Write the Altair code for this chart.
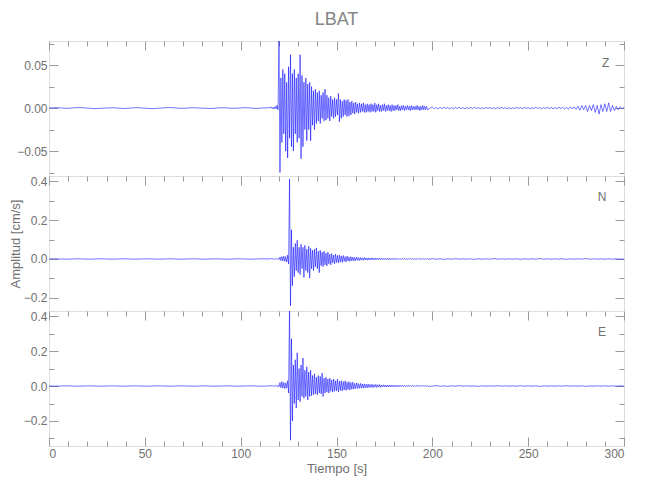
import altair as alt
import pandas as pd

# ---------------- data ----------------
PRE_STEP = 3.0          # quiet part, one sample every 3 s from t = 0
Z_EVENT_START = 116.0   # event part, one (+peak, -peak) pair per second
NE_EVENT_START = 116.5
POST_START = 200.0

Z_PRE = [0.0000, 0.0005, 0.0002, -0.0004, 0.0001, 0.0006, 0.0003, -0.0002, -0.0006, -0.0003,
         0.0001, 0.0004, 0.0000, -0.0005, -0.0001, 0.0005, 0.0002, -0.0003, -0.0006, -0.0002,
         0.0003, 0.0006, 0.0002, -0.0004, 0.0000, 0.0004, 0.0001, -0.0002, -0.0005, -0.0001,
         0.0004, 0.0002, -0.0003, 0.0000, 0.0005, 0.0001, -0.0004, 0.0000, 0.0003]
Z_UP = [0.001, 0.001, 0.002, 0.003, 0.080, 0.035, 0.045, 0.040, 0.030, 0.048,
        0.062, 0.040, 0.045, 0.035, 0.040, 0.062, 0.038, 0.030, 0.035, 0.028,
        0.030, 0.025, 0.020, 0.022, 0.018, 0.020, 0.015, 0.018, 0.022, 0.015,
        0.012, 0.014, 0.010, 0.012, 0.010, 0.017, 0.010, 0.008, 0.010, 0.009,
        0.010, 0.007, 0.008, 0.006, 0.007, 0.005, 0.006, 0.005, 0.006, 0.004,
        0.005, 0.004, 0.005, 0.004, 0.006, 0.004, 0.005, 0.003, 0.004, 0.005,
        0.003, 0.004, 0.003, 0.004, 0.003, 0.003, 0.004, 0.002, 0.003, 0.003,
        0.002, 0.003, 0.002, 0.003, 0.002, 0.002, 0.003, 0.002, 0.002, 0.003, 0.002, 0.002]
Z_DN = [-0.001, -0.001, -0.001, -0.002, -0.075, -0.040, -0.030, -0.050, -0.058, -0.035,
        -0.045, -0.050, -0.030, -0.040, -0.035, -0.059, -0.045, -0.025, -0.038, -0.025,
        -0.038, -0.020, -0.025, -0.018, -0.015, -0.018, -0.012, -0.015, -0.014, -0.012,
        -0.015, -0.010, -0.012, -0.010, -0.008, -0.016, -0.012, -0.010, -0.008, -0.010,
        -0.009, -0.008, -0.006, -0.007, -0.005, -0.006, -0.005, -0.004, -0.005, -0.005,
        -0.004, -0.005, -0.004, -0.004, -0.005, -0.003, -0.004, -0.004, -0.003, -0.004,
        -0.003, -0.003, -0.004, -0.003, -0.003, -0.002, -0.003, -0.003, -0.002, -0.003,
        -0.002, -0.002, -0.003, -0.002, -0.002, -0.002, -0.002, -0.003, -0.002, -0.002, -0.002, -0.002]
Z_POST_STEP = 1.0
Z_POST = [0.0015, -0.0010, 0.0008, -0.0012, 0.0010, -0.0008, 0.0012, -0.0006, 0.0008, -0.0010,
          0.0006, -0.0010, 0.0008, -0.0005, 0.0010, -0.0007, 0.0005, -0.0008, 0.0006, -0.0005,
          0.0008, -0.0006, 0.0010, -0.0005, 0.0006, -0.0009, 0.0005, -0.0006, 0.0007, -0.0004,
          0.0005, -0.0006, 0.0004, -0.0008, 0.0005, -0.0004, 0.0008, -0.0005, 0.0004, -0.0006,
          0.0005, -0.0008, 0.0004, -0.0005, 0.0008, -0.0004, 0.0005, -0.0006, 0.0009, -0.0005,
          0.0006, -0.0009, 0.0005, -0.0006, 0.0010, -0.0005, 0.0006, -0.0010, 0.0006, -0.0005,
          0.0010, -0.0006, 0.0007, -0.0010, 0.0006, -0.0008, 0.0012, -0.0007, 0.0008, -0.0012,
          0.0010, -0.0015, 0.0015, -0.0010, 0.0015, -0.0015, 0.0020, -0.0025, 0.0030, -0.0020,
          0.0030, -0.0040, 0.0030, -0.0030, 0.0040, -0.0050, 0.0030, -0.0070, 0.0040, -0.0040,
          0.0050, -0.0040, 0.0060, -0.0040, 0.0030, -0.0030, 0.0020, -0.0020, 0.0015, -0.0010,
          0.0010]

N_PRE = [0.000, 0.001, 0.000, -0.001, 0.000, 0.001, 0.000, -0.001, 0.000, 0.001,
         0.000, -0.001, 0.000, 0.001, 0.000, -0.001, 0.000, 0.001, 0.000, -0.001,
         0.000, 0.001, 0.000, -0.001, 0.000, 0.001, 0.000, -0.001, 0.000, 0.001,
         0.000, -0.001, 0.000, 0.001, 0.000, -0.001, 0.000, 0.001, 0.000]
N_UP = [0.002, 0.002, 0.003, 0.003, 0.010, 0.012, 0.015, 0.012, 0.020, 0.410,
        0.150, 0.060, 0.080, 0.096, 0.060, 0.075, 0.060, 0.070, 0.050, 0.065,
        0.055, 0.045, 0.050, 0.057, 0.040, 0.045, 0.035, 0.040, 0.030, 0.035,
        0.025, 0.028, 0.020, 0.025, 0.018, 0.020, 0.015, 0.018, 0.012, 0.015,
        0.010, 0.012, 0.010, 0.008, 0.010, 0.007, 0.008, 0.006, 0.008, 0.005,
        0.006, 0.005, 0.006, 0.004, 0.005, 0.004, 0.005, 0.003, 0.004, 0.004,
        0.003, 0.004, 0.003, 0.003, 0.004, 0.003, 0.003, 0.002, 0.003, 0.003,
        0.002, 0.003, 0.002, 0.003, 0.002, 0.002, 0.003, 0.002, 0.002, 0.002, 0.002, 0.002]
N_DN = [-0.002, -0.002, -0.002, -0.003, -0.008, -0.010, -0.012, -0.015, -0.025, -0.240,
        -0.137, -0.090, -0.060, -0.070, -0.080, -0.050, -0.095, -0.060, -0.070, -0.098,
        -0.050, -0.060, -0.040, -0.050, -0.070, -0.035, -0.040, -0.030, -0.035, -0.025,
        -0.030, -0.020, -0.025, -0.018, -0.020, -0.015, -0.018, -0.012, -0.015, -0.010,
        -0.012, -0.009, -0.010, -0.008, -0.007, -0.008, -0.006, -0.007, -0.005, -0.006,
        -0.005, -0.005, -0.004, -0.005, -0.004, -0.004, -0.003, -0.004, -0.003, -0.003,
        -0.004, -0.003, -0.003, -0.003, -0.002, -0.003, -0.002, -0.003, -0.002, -0.002,
        -0.003, -0.002, -0.002, -0.002, -0.002, -0.002, -0.002, -0.002, -0.002, -0.002, -0.002, -0.002]
N_POST_STEP = 2.0
N_POST = [0.002, -0.001, 0.001, -0.002, 0.001, -0.001, 0.002, -0.001, 0.001, -0.001,
          0.001, -0.002, 0.001, -0.001, 0.001, -0.001, 0.002, -0.001, 0.001, -0.001,
          0.001, -0.001, 0.001, -0.002, 0.001, -0.001, 0.001, -0.001, 0.002, -0.001,
          0.001, -0.001, 0.001, -0.001, 0.001, -0.002, 0.001, -0.001, 0.001, -0.001,
          0.002, -0.001, 0.001, -0.001, 0.001, -0.001, 0.001, -0.001, 0.001, -0.001,
          0.000]

E_PRE = [0.000, -0.001, 0.000, 0.001, 0.000, -0.001, 0.000, 0.001, 0.000, -0.001,
         0.000, 0.001, 0.000, -0.001, 0.000, 0.001, 0.000, -0.001, 0.000, 0.001,
         0.000, -0.001, 0.000, 0.001, 0.000, -0.001, 0.000, 0.001, 0.000, -0.001,
         0.000, 0.001, 0.000, -0.001, 0.000, 0.001, 0.000, -0.001, 0.000]
E_UP = [0.002, 0.003, 0.003, 0.005, 0.020, 0.025, 0.020, 0.018, 0.030, 0.460,
        0.270, 0.120, 0.150, 0.190, 0.100, 0.120, 0.160, 0.090, 0.110, 0.080,
        0.090, 0.060, 0.070, 0.050, 0.060, 0.055, 0.074, 0.045, 0.050, 0.040,
        0.045, 0.035, 0.040, 0.030, 0.040, 0.028, 0.030, 0.025, 0.030, 0.022,
        0.025, 0.020, 0.022, 0.015, 0.018, 0.014, 0.015, 0.012, 0.012, 0.010,
        0.011, 0.009, 0.010, 0.008, 0.009, 0.007, 0.008, 0.006, 0.007, 0.006,
        0.006, 0.005, 0.006, 0.005, 0.005, 0.004, 0.005, 0.004, 0.004, 0.004,
        0.003, 0.004, 0.003, 0.004, 0.003, 0.003, 0.003, 0.003, 0.002, 0.003, 0.002, 0.002]
E_DN = [-0.002, -0.002, -0.003, -0.004, -0.010, -0.012, -0.015, -0.012, -0.040, -0.310,
        -0.200, -0.100, -0.126, -0.080, -0.090, -0.060, -0.070, -0.060, -0.080, -0.060,
        -0.055, -0.050, -0.045, -0.050, -0.040, -0.045, -0.060, -0.040, -0.035, -0.040,
        -0.030, -0.035, -0.030, -0.028, -0.035, -0.025, -0.028, -0.022, -0.025, -0.020,
        -0.022, -0.018, -0.018, -0.015, -0.014, -0.013, -0.012, -0.012, -0.010, -0.010,
        -0.009, -0.008, -0.009, -0.007, -0.008, -0.006, -0.007, -0.006, -0.005, -0.006,
        -0.005, -0.005, -0.004, -0.005, -0.004, -0.004, -0.004, -0.003, -0.004, -0.003,
        -0.003, -0.003, -0.003, -0.002, -0.003, -0.002, -0.002, -0.003, -0.002, -0.002, -0.002, -0.002]
E_POST_STEP = 2.0
E_POST = [-0.001, 0.002, -0.001, 0.001, -0.002, 0.001, -0.001, 0.002, -0.001, 0.001,
          -0.001, 0.001, -0.002, 0.001, -0.001, 0.001, -0.001, 0.002, -0.001, 0.001,
          -0.001, 0.001, -0.001, 0.002, -0.001, 0.001, -0.001, 0.001, -0.002, 0.001,
          -0.001, 0.001, -0.001, 0.001, -0.001, 0.002, -0.001, 0.001, -0.001, 0.001,
          -0.002, 0.001, -0.001, 0.001, -0.001, 0.001, -0.001, 0.001, -0.001, 0.001,
          0.000]

COMPONENTS = ["Z", "N", "E"]
Y_DOMAINS = [[-0.079, 0.078], [-0.267, 0.426], [-0.343, 0.429]]
Y_LABEL_TICKS = [[-0.05, 0.0, 0.05], [-0.2, 0.0, 0.2, 0.4], [-0.2, 0.0, 0.2, 0.4]]
Y_ALL_TICKS = [[-0.075, -0.05, -0.025, 0.0, 0.025, 0.05, 0.075],
               [-0.2, -0.1, 0.0, 0.1, 0.2, 0.3, 0.4],
               [-0.3, -0.2, -0.1, 0.0, 0.1, 0.2, 0.3, 0.4]]
Y_FORMATS = [".2f", ".1f", ".1f"]
Y_MAJOR_TEST = ["round(datum.value * 1000) % 50 === 0",
                "round(datum.value * 10) % 2 === 0",
                "round(datum.value * 10) % 2 === 0"]
LETTER_T = [290.5, 288.5, 288.5]
LETTER_V = [0.052, 0.318, 0.309]

X_LABEL_TICKS = [0, 50, 100, 150, 200, 250, 300]
X_ALL_TICKS = list(range(0, 301, 10))

TITLE = "LBAT"
X_TITLE = "Tiempo [s]"
Y_TITLE = "Amplitud [cm/s]"

# ---------------- styling ----------------
W, H = 575, 135
FONT = "Liberation Sans"
AXIS_GRAY = "#9a9a9a"
TEXT_GRAY = "#707070"
LINE_BLUE = "#0000ff"


def build(pre, up, dn, ev_start, post, post_step):
    t, v = [], []
    for i, val in enumerate(pre):
        t.append(i * PRE_STEP)
        v.append(val)
    for i, (a, b) in enumerate(zip(up, dn)):
        t += [ev_start + i, ev_start + i + 0.5]
        v += [a, b]
    for i, val in enumerate(post):
        t.append(POST_START + i * post_step)
        v.append(val)
    return pd.DataFrame({"t": t, "v": v})


frames = [
    build(Z_PRE, Z_UP, Z_DN, Z_EVENT_START, Z_POST, Z_POST_STEP),
    build(N_PRE, N_UP, N_DN, NE_EVENT_START, N_POST, N_POST_STEP),
    build(E_PRE, E_UP, E_DN, NE_EVENT_START, E_POST, E_POST_STEP),
]

X_SCALE = alt.Scale(domain=[0, 300], nice=False, zero=False)
x_tick_size = {"condition": {"test": "datum.value % 50 === 0", "value": 9}, "value": 5}


def panel(k):
    df = frames[k]
    yscale = alt.Scale(domain=Y_DOMAINS[k], nice=False, zero=False)
    y_tick_size = {"condition": {"test": Y_MAJOR_TEST[k], "value": 9}, "value": 5}
    last = k == len(COMPONENTS) - 1
    mid = k == 1

    if last:
        x_lab_axis = alt.Axis(orient="bottom", values=X_LABEL_TICKS, tickSize=0,
                              domain=False, grid=False, labelFont=FONT,
                              labelFontSize=12, labelColor=TEXT_GRAY, labelPadding=2,
                              title=X_TITLE, titleFont=FONT, titleFontSize=13,
                              titleColor=TEXT_GRAY, titleFontWeight="normal",
                              titlePadding=3)
    else:
        x_lab_axis = None

    y_lab_axis = alt.Axis(orient="left", values=Y_LABEL_TICKS[k], format=Y_FORMATS[k],
                          tickSize=0, domain=False, grid=False, labelFont=FONT,
                          labelFontSize=12, labelColor=TEXT_GRAY, labelPadding=2,
                          title=Y_TITLE if mid else None, titleFont=FONT,
                          titleFontSize=13, titleColor=TEXT_GRAY,
                          titleFontWeight="normal", titlePadding=1)

    line = alt.Chart(df).mark_line(clip=True, color=LINE_BLUE, strokeWidth=0.55).encode(
        x=alt.X("t:Q", scale=X_SCALE, axis=x_lab_axis),
        y=alt.Y("v:Q", scale=yscale, axis=y_lab_axis),
    )

    helper = df.iloc[:1]
    # inward ticks on top edge and right edge
    ticks_a = alt.Chart(helper).mark_point(opacity=0).encode(
        x=alt.X("t:Q", scale=X_SCALE,
                axis=alt.Axis(orient="bottom", offset=-H, values=X_ALL_TICKS,
                              tickSize=x_tick_size, labels=False, domain=False,
                              grid=False, tickColor=AXIS_GRAY, title=None)),
        y=alt.Y("v:Q", scale=yscale,
                axis=alt.Axis(orient="left", offset=-W, values=Y_ALL_TICKS[k],
                              tickSize=y_tick_size, labels=False, domain=False,
                              grid=False, tickColor=AXIS_GRAY, title=None)),
    )
    # inward ticks on bottom edge and left edge
    ticks_b = alt.Chart(helper).mark_point(opacity=0).encode(
        x=alt.X("t:Q", scale=X_SCALE,
                axis=(alt.Axis(orient="top", offset=-H, values=X_ALL_TICKS,
                               tickSize=x_tick_size, labels=False, domain=False,
                               grid=False, tickColor=AXIS_GRAY, title=None)
                      if last else None)),
        y=alt.Y("v:Q", scale=yscale,
                axis=alt.Axis(orient="right", offset=-W, values=Y_ALL_TICKS[k],
                              tickSize=y_tick_size, labels=False, domain=False,
                              grid=False, tickColor=AXIS_GRAY, title=None)),
    )

    letter = alt.Chart(pd.DataFrame({"t": [LETTER_T[k]], "v": [LETTER_V[k]],
                                     "s": [COMPONENTS[k]]})).mark_text(
        font=FONT, fontSize=12, color=TEXT_GRAY).encode(
        x=alt.X("t:Q", scale=X_SCALE, axis=None),
        y=alt.Y("v:Q", scale=yscale, axis=None),
        text="s:N")

    layered = alt.layer(line, ticks_a, ticks_b, letter).resolve_axis(
        x="independent", y="independent").properties(width=W, height=H)
    if k == 0:
        layered = layered.properties(title=alt.TitleParams(
            TITLE, font=FONT, fontSize=18, color="#858585", fontWeight="normal",
            anchor="middle", frame="group", offset=12))
    return layered


chart = alt.vconcat(*[panel(k) for k in range(3)], spacing=0, bounds="flush").properties(
    padding={"left": 0, "top": 2, "right": 5, "bottom": 5}
).configure_view(stroke=AXIS_GRAY, strokeWidth=1).configure(background="white")

chart.save("out.html", embed_options={"renderer": "svg", "actions": False})
